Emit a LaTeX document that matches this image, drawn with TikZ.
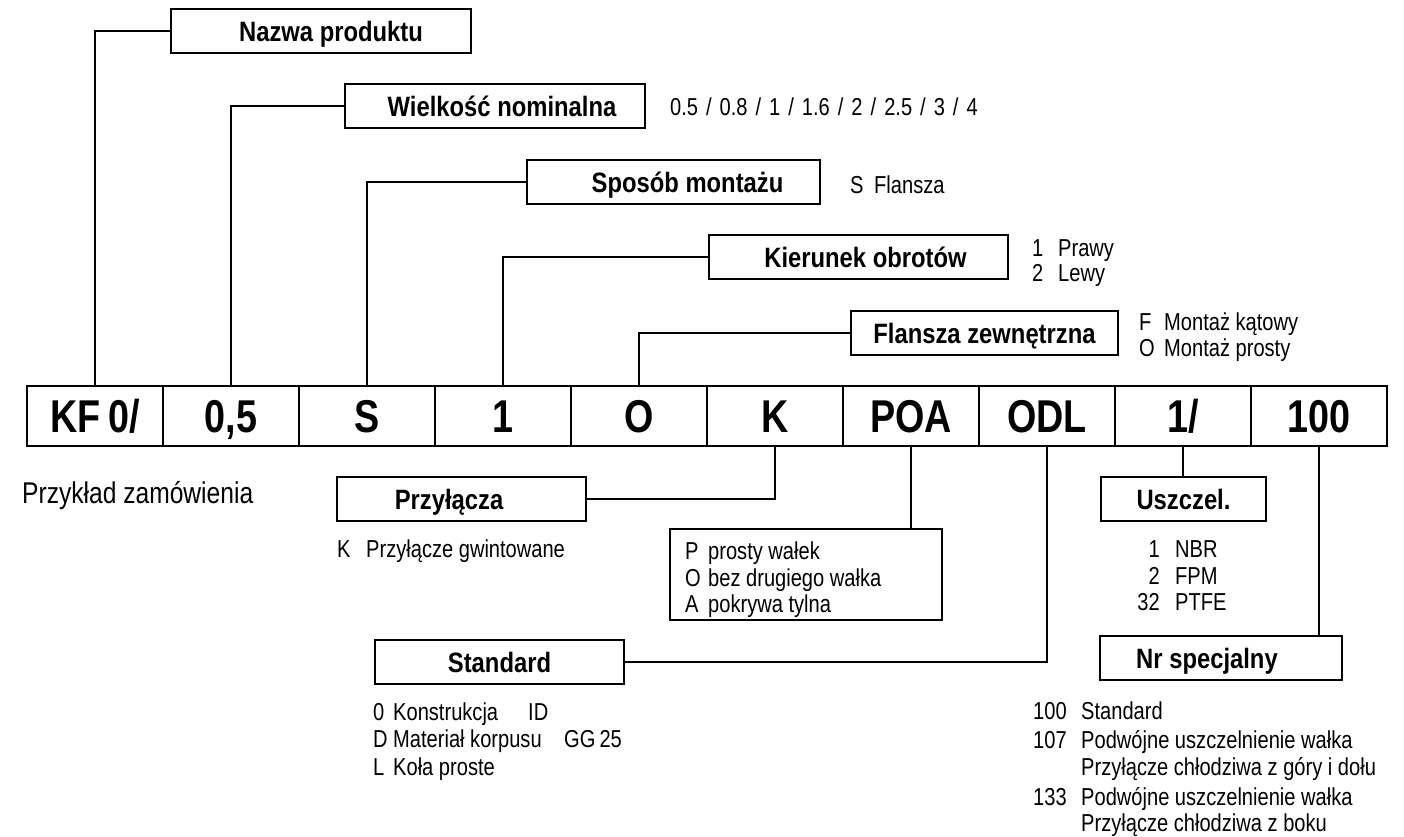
\documentclass[tikz,border=0pt]{standalone}
\usepackage{fontspec}
\setmainfont{Liberation Sans}[FakeStretch=0.82]
\newfontfamily\rowfont{Liberation Sans}[FakeStretch=0.82]
\newfontfamily\lblfont{Liberation Sans}[FakeStretch=0.85]
\begin{document}
\begin{tikzpicture}[x=1pt,y=-1pt,
  box/.style={draw, line width=1.2pt, inner sep=0pt, text height=20pt, text depth=0pt, font=\lblfont\fontsize{28}{32}\selectfont\bfseries},
  cell/.style={draw, line width=1.2pt, minimum width=136pt, minimum height=60pt, inner sep=0pt, text height=33pt, text depth=0pt, font=\rowfont\fontsize{46}{50}\selectfont\bfseries},
  txt/.style={anchor=base west, inner sep=0pt, font=\fontsize{24.5}{28}\selectfont},
  rtxt/.style={anchor=base east, inner sep=0pt, font=\fontsize{24.5}{28}\selectfont},
  conn/.style={line width=1.2pt}]
\useasboundingbox (0,0) rectangle (1404,836);
\fill[white] (0,0) rectangle (1404,836);

% main row
\node[cell] (c1) at (95,416) {KF\,0/};
\node[cell] (c2) at (231,416) {0,5};
\node[cell] (c3) at (367,416) {S};
\node[cell] (c4) at (503,416) {1};
\node[cell] (c5) at (639,416) {O};
\node[cell] (c6) at (775,416) {K};
\node[cell] (c7) at (911,416) {POA};
\node[cell] (c8) at (1047,416) {ODL};
\node[cell] (c9) at (1183,416) {1/};
\node[cell] (c10) at (1319,416) {100};

% top boxes
\node[box, minimum width=300pt, minimum height=44pt] (nazwa) at (321,31) {\hspace*{20pt}Nazwa produktu};
\node[box, minimum width=300pt, minimum height=44pt] (wielk) at (495,106) {\hspace*{14pt}Wielkość nominalna};
\node[box, minimum width=293pt, minimum height=44pt] (sposob) at (673.5,182) {\hspace*{28pt}Sposób montażu};
\node[box, minimum width=299pt, minimum height=44pt] (kier) at (858.5,257) {\hspace*{14pt}Kierunek obrotów};
\node[box, minimum width=267pt, minimum height=44pt] (flansza) at (984.5,333) {Flansza zewnętrzna};

\draw[conn] (nazwa.west) -| (c1.north);
\draw[conn] (wielk.west) -| (c2.north);
\draw[conn] (sposob.west) -| (c3.north);
\draw[conn] (kier.west) -| (c4.north);
\draw[conn] (flansza.west) -| (c5.north);

% top option texts
\node[txt] (vals) at (670,115) {0.5\hspace{8pt}/\hspace{8pt}0.8\hspace{8pt}/\hspace{8pt}1\hspace{8pt}/\hspace{8pt}1.6\hspace{8pt}/\hspace{8pt}2\hspace{8pt}/\hspace{8pt}2.5\hspace{8pt}/\hspace{8pt}3\hspace{8pt}/\hspace{8pt}4};
\node[txt] (sk) at (850,193) {S};
\node[txt] (sv) at (874,193) {Flansza};
\node[txt] (k1) at (1032,256) {1};
\node[txt] (k1v) at (1058,256) {Prawy};
\node[txt] (k2) at (1032,281) {2};
\node[txt] (k2v) at (1058,281) {Lewy};
\node[txt] (f1) at (1139,330) {F};
\node[txt] (f1v) at (1164,330) {Montaż kątowy};
\node[txt] (f2) at (1139,356) {O};
\node[txt] (f2v) at (1164,356) {Montaż prosty};

% example label
\node[anchor=base west, inner sep=0pt, font=\fontsize{30}{34}\selectfont] (przyk) at (22,503) {Przykład zamówienia};

% bottom boxes
\node[box, minimum width=249pt, minimum height=44pt] (przyl) at (461.5,499) {\hspace*{-25pt}Przyłącza};
\node[draw, line width=1.2pt, minimum width=272pt, minimum height=91pt, inner sep=0pt] (poa) at (806,574.5) {};
\node[box, minimum width=249pt, minimum height=44pt] (standard) at (499.5,662) {Standard};
\node[box, minimum width=165pt, minimum height=44pt] (uszczel) at (1183.5,499) {Uszczel.};
\node[box, minimum width=242pt, minimum height=44pt] (nrspec) at (1221,658) {\hspace*{-28pt}Nr specjalny};

\draw[conn] (c6.south) |- (przyl.east);
\draw[conn] (c7.south) -- (c7.south |- poa.north);
\draw[conn] (c8.south) |- (standard.east);
\draw[conn] (c9.south) -- (c9.south |- uszczel.north);
\draw[conn] (c10.south) -- (c10.south |- nrspec.north);

% Przylacza text
\node[txt] (kk) at (337,557) {K};
\node[txt] (kkv) at (366,557) {Przyłącze gwintowane};

% POA text
\node[txt] (p1) at (685,559) {P};
\node[txt] (p1v) at (708,559) {prosty wałek};
\node[txt] (p2) at (685,586) {O};
\node[txt] (p2v) at (708,586) {bez drugiego wałka};
\node[txt] (p3) at (685,612) {A};
\node[txt] (p3v) at (708,612) {pokrywa tylna};

% Standard text
\node[txt] (s1) at (373,720) {0};
\node[txt] (s1v) at (393,720) {Konstrukcja};
\node[txt] (s1w) at (528,720) {ID};
\node[txt] (s2) at (373,747) {D};
\node[txt] (s2v) at (393,747) {Materiał korpusu};
\node[txt] (s2w) at (564,747) {GG\,25};
\node[txt] (s3) at (373,775) {L};
\node[txt] (s3v) at (393,775) {Koła proste};

% Uszczel text
\node[rtxt] (u1) at (1160,557) {1};
\node[txt] (u1v) at (1175,557) {NBR};
\node[rtxt] (u2) at (1160,584) {2};
\node[txt] (u2v) at (1175,584) {FPM};
\node[rtxt] (u3) at (1160,610) {32};
\node[txt] (u3v) at (1175,610) {PTFE};

% Nr specjalny text
\node[txt] (n1) at (1033,719) {100};
\node[txt] (n1v) at (1081,719) {Standard};
\node[txt] (n2) at (1033,748) {107};
\node[txt] (n2v) at (1081,748) {Podwójne uszczelnienie wałka};
\node[txt] (n2w) at (1081,775) {Przyłącze chłodziwa z góry i dołu};
\node[txt] (n3) at (1033,805) {133};
\node[txt] (n3v) at (1081,805) {Podwójne uszczelnienie wałka};
\node[txt] (n3w) at (1081,831) {Przyłącze chłodziwa z boku};
\end{tikzpicture}
\end{document}
